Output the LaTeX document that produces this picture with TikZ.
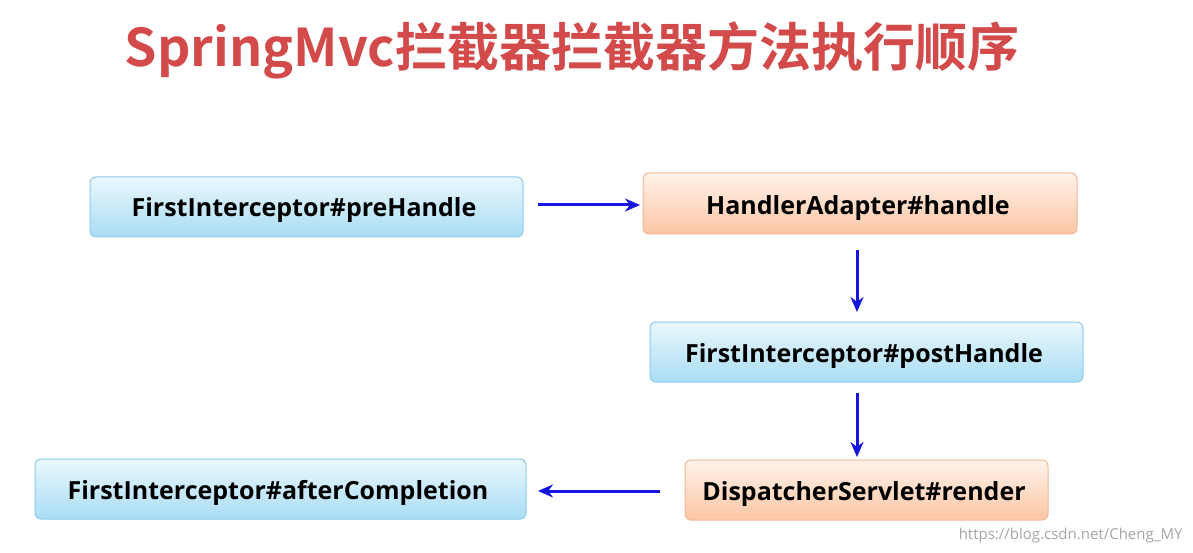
\documentclass[tikz,border=0pt]{standalone}
\usepackage{fontspec}
\setmainfont{Open Sans}
\newfontfamily\cjkb{Noto Sans CJK SC Bold}
\usetikzlibrary{arrows.meta}
\definecolor{titlered}{HTML}{D24A4A}
\definecolor{arr}{HTML}{1515E0}
\definecolor{bborder}{HTML}{8CCBEA}
\definecolor{btop}{HTML}{EAF7FD}
\definecolor{bbot}{HTML}{A9DDF4}
\definecolor{oborder}{HTML}{F2B896}
\definecolor{otop}{HTML}{FFF2EA}
\definecolor{obot}{HTML}{FCC6A4}
\tikzset{
  px/.style={x=1pt,y=-1pt},
  bluebox/.style={rounded corners=6pt,draw=bborder,top color=btop,bottom color=bbot,line width=1pt},
  orangebox/.style={rounded corners=6pt,draw=oborder,top color=otop,bottom color=obot,line width=1pt},
  lbl/.style={font=\bfseries\fontsize{25}{28}\selectfont,text=black},
  flow/.style={-{Stealth[length=15pt,width=13pt]},arr,line width=3pt}
}
\begin{document}
\begin{tikzpicture}[px]
\useasboundingbox[fill=white] (0,0) rectangle (1193,553);
\node[text=titlered,font=\cjkb\fontsize{52}{56}\selectfont] (title) at (572,50) {SpringMvc拦截器拦截器方法执行顺序};
\path[bluebox] (90,177) rectangle (523,237);
\node[lbl] (pre) at (304,210) {FirstInterceptor\#preHandle};
\path[orangebox] (643,173) rectangle (1077,234);
\node[lbl] (hand) at (858,208) {HandlerAdapter\#handle};
\path[bluebox] (650,322) rectangle (1083,382);
\node[lbl] (post) at (864,356) {FirstInterceptor\#postHandle};
\path[orangebox] (685,460) rectangle (1048,520);
\node[lbl] (disp) at (864,494) {DispatcherServlet\#render};
\path[bluebox] (35,459) rectangle (526,519);
\node[lbl] (after) at (278,493) {FirstInterceptor\#afterCompletion};
\coordinate (a1) at (538,205); \coordinate (b1) at (640,205);
\coordinate (a2) at (857,250); \coordinate (b2) at (857,312);
\coordinate (a3) at (857,393); \coordinate (b3) at (857,457);
\coordinate (a4) at (660,491); \coordinate (b4) at (538,491);
\draw[flow] (a1) -- (b1);
\draw[flow] (a2) -- (b2);
\draw[flow] (a3) -- (b3);
\draw[flow] (a4) -- (b4);
\node[text=gray!70,font=\fontsize{15}{16}\selectfont,anchor=east] (wm) at (1186,536) {https://blog.csdn.net/Cheng\_MY};
\end{tikzpicture}
\end{document}
